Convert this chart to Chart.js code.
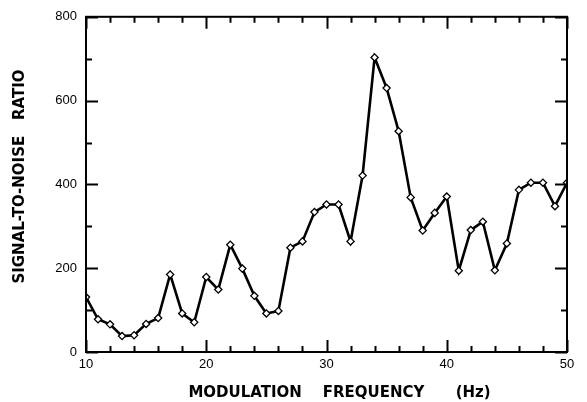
<!DOCTYPE html>
<html>
<head>
<meta charset="utf-8">
<script src="https://cdn.jsdelivr.net/npm/chart.js@4.4.1/dist/chart.umd.min.js"></script>
<style>
  html, body { margin: 0; padding: 0; background: #fff; }
  #wrap { width: 587px; height: 402px; }
</style>
</head>
<body>
<div id="wrap"><canvas id="snrChart" width="587" height="402"></canvas></div>
<script>
// data
var frequency = [10, 11, 12, 13, 14, 15, 16, 17, 18, 19, 20, 21, 22, 23, 24, 25, 26, 27, 28, 29, 30,
                 31, 32, 33, 34, 35, 36, 37, 38, 39, 40, 41, 42, 43, 44, 45, 46, 47, 48, 49, 50];
var snr = [131, 78, 66, 38, 40, 67, 81, 185, 92, 71, 179, 149, 256, 199, 134, 92, 98, 249, 264, 334, 352,
           352, 264, 421, 703, 630, 527, 369, 290, 332, 371, 194, 291, 311, 195, 259, 387, 404, 404, 348, 404];

var xMajorTicks = [10, 20, 30, 40, 50];
var xMinorTicks = [12, 14, 16, 18, 22, 24, 26, 28, 32, 34, 36, 38, 42, 44, 46, 48];
var yMajorTicks = [0, 200, 400, 600, 800];
var yMinorTicks = [100, 300, 500, 700];

var points = frequency.map(function (f, i) { return { x: f, y: snr[i] }; });

// box round the plot with inward ticks on every side
var frameTicks = {
  id: 'frameTicks',
  afterDatasetsDraw: function (chart) {
    var c = chart.ctx, a = chart.chartArea;
    var xs = chart.scales.x, ys = chart.scales.y;
    c.save();
    c.strokeStyle = '#000';
    c.lineWidth = 2;
    c.strokeRect(a.left, a.top, a.right - a.left, a.bottom - a.top);
    c.beginPath();
    function xt(v, len) {
      var p = Math.round(xs.getPixelForValue(v)) + 0.5;
      c.moveTo(p, a.bottom); c.lineTo(p, a.bottom - len);
      c.moveTo(p, a.top); c.lineTo(p, a.top + len);
    }
    function yt(v, len) {
      var p = Math.round(ys.getPixelForValue(v)) + 0.5;
      c.moveTo(a.left, p); c.lineTo(a.left + len, p);
      c.moveTo(a.right, p); c.lineTo(a.right - len, p);
    }
    xMajorTicks.forEach(function (v) { xt(v, 12); });
    xMinorTicks.forEach(function (v) { xt(v, 6); });
    yMajorTicks.forEach(function (v) { yt(v, 12); });
    yMinorTicks.forEach(function (v) { yt(v, 6); });
    c.stroke();
    c.restore();
  }
};

var tickFont = { family: 'Liberation Sans, Arial, sans-serif', size: 13 };
var titleFont = { family: 'DejaVu Sans, sans-serif', size: 15, weight: 'bold', lineHeight: 1.2 };

new Chart(document.getElementById('snrChart'), {
  type: 'line',
  data: {
    datasets: [{
      data: points,
      borderColor: '#000',
      borderWidth: 2.6,
      tension: 0,
      pointStyle: 'rectRot',
      pointRadius: 3.6,
      pointBackgroundColor: '#fff',
      pointBorderColor: '#000',
      pointBorderWidth: 1.3
    }]
  },
  options: {
    responsive: false,
    animation: false,
    layout: { padding: { top: 15, right: 20, left: 0, bottom: 0 } },
    plugins: { legend: { display: false }, tooltip: { enabled: false } },
    scales: {
      x: {
        type: 'linear',
        min: 10,
        max: 50,
        grid: { display: false, drawTicks: false },
        border: { display: false },
        ticks: { stepSize: 10, color: '#000', font: tickFont, padding: 5, maxRotation: 0 },
        title: { display: true, text: '     MODULATION    FREQUENCY      (Hz)', color: '#000', font: titleFont, padding: { top: 0, bottom: 0 } },
        afterFit: function (s) { s.height = 50; }
      },
      y: {
        min: 0,
        max: 800,
        grid: { display: false, drawTicks: false },
        border: { display: false },
        ticks: { stepSize: 200, color: '#000', font: tickFont, padding: 9 },
        title: { display: true, text: '   SIGNAL-TO-NOISE   RATIO', color: '#000', font: titleFont, padding: { top: 11, bottom: 0 } },
        afterFit: function (s) { s.width = 86; }
      }
    }
  },
  plugins: [frameTicks]
});
</script>
</body>
</html>
